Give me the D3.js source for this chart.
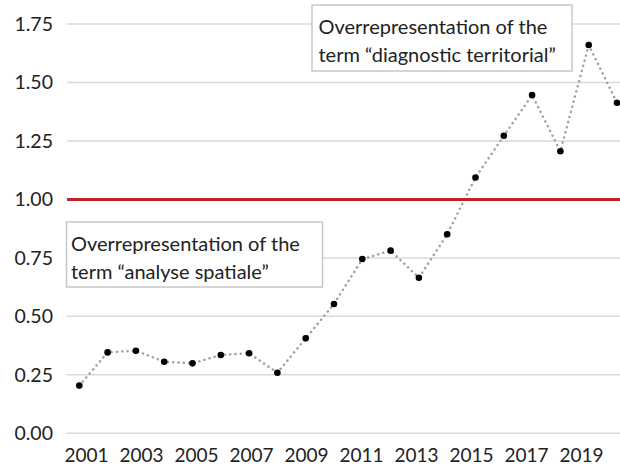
<!DOCTYPE html>
<html>
<head>
<meta charset="utf-8">
<script src="https://cdn.jsdelivr.net/npm/d3@7"></script>
<style>
  html, body { margin: 0; padding: 0; background: #fff; }
  svg { display: block; }
  text { font-family: Lato, "Open Sans", sans-serif; fill: #222; }
</style>
</head>
<body>
<svg id="chart" width="620" height="468"></svg>
<script>
// ---- data ----
const years = [2001, 2002, 2003, 2004, 2005, 2006, 2007, 2008, 2009, 2010,
               2011, 2012, 2013, 2014, 2015, 2016, 2017, 2018, 2019, 2020];
const values = [0.204, 0.346, 0.353, 0.306, 0.299, 0.335, 0.342, 0.259, 0.406, 0.553,
                0.745, 0.781, 0.665, 0.851, 1.094, 1.272, 1.446, 1.206, 1.660, 1.413];
const yTicks = [0, 0.25, 0.5, 0.75, 1.0, 1.25, 1.5, 1.75];
const xTickLabels = [2001, 2003, 2005, 2007, 2009, 2011, 2013, 2015, 2017, 2019];
const threshold = 1.0;
const noteTop = ["Overrepresentation of the", "term \u201cdiagnostic territorial\u201d"];
const noteBottom = ["Overrepresentation of the", "term \u201canalyse spatiale\u201d"];

// ---- layout ----
const plotLeft = 67, plotRight = 620;
const svg = d3.select("#chart");
const FONT = "Lato, 'Open Sans', sans-serif";

const y = d3.scaleLinear().domain([0, 1.75]).range([433.3, 24]);
const x = d3.scalePoint().domain(years).range([79.3, 617]);
const xLab = d3.scalePoint().domain(years).range([86, 608.5]);

// gridlines
svg.append("g").selectAll("line").data(yTicks).join("line")
  .attr("x1", plotLeft).attr("x2", plotRight)
  .attr("y1", d => y(d)).attr("y2", d => y(d))
  .attr("stroke", "#d9d9d9").attr("stroke-width", 1.5);

// y axis labels
const yAxis = d3.axisLeft(y).tickValues(yTicks).tickFormat(d3.format(".2f")).tickSize(0).tickPadding(0);
const gy = svg.append("g").attr("transform", "translate(53,0)").call(yAxis);
gy.select(".domain").remove();
gy.selectAll("text").attr("font-size", 19.5).attr("font-family", FONT).attr("fill", "#222");

// x axis labels
const xAxis = d3.axisBottom(xLab).tickValues(xTickLabels).tickSize(0).tickPadding(0);
const gx = svg.append("g").attr("transform", "translate(0,448.5)").call(xAxis);
gx.select(".domain").remove();
gx.selectAll("text").attr("font-size", 19).attr("font-family", FONT).attr("fill", "#222");

// dotted series line
const line = d3.line().x((d, i) => x(years[i])).y(d => y(d));
svg.append("path").datum(values)
  .attr("d", line)
  .attr("fill", "none")
  .attr("stroke", "#a0a0a0")
  .attr("stroke-width", 2.5)
  .attr("stroke-linecap", "round")
  .attr("stroke-dasharray", "0.1 5.2");

// threshold red line
svg.append("line")
  .attr("x1", plotLeft).attr("x2", plotRight)
  .attr("y1", y(threshold)).attr("y2", y(threshold))
  .attr("stroke", "#c0222a").attr("stroke-width", 3);

// markers
svg.append("g").selectAll("circle").data(values).join("circle")
  .attr("cx", (d, i) => x(years[i])).attr("cy", d => y(d))
  .attr("r", 3.3).attr("fill", "#000");

// annotation boxes
function note(lines, bx, by, bw, bh, tx, ty0) {
  const g = svg.append("g");
  g.append("rect").attr("x", bx).attr("y", by).attr("width", bw).attr("height", bh)
    .attr("fill", "#fff").attr("stroke", "#c8c8c8").attr("stroke-width", 1.5);
  g.selectAll("text").data(lines).join("text")
    .attr("x", tx).attr("y", (d, i) => ty0 + i * 28)
    .attr("font-size", 20)
    .attr("font-family", FONT)
    .text(d => d);
}
note(noteTop, 312, 5, 260, 66, 318.5, 34);
note(noteBottom, 66.5, 222, 256, 65, 71, 251);
</script>
</body>
</html>
